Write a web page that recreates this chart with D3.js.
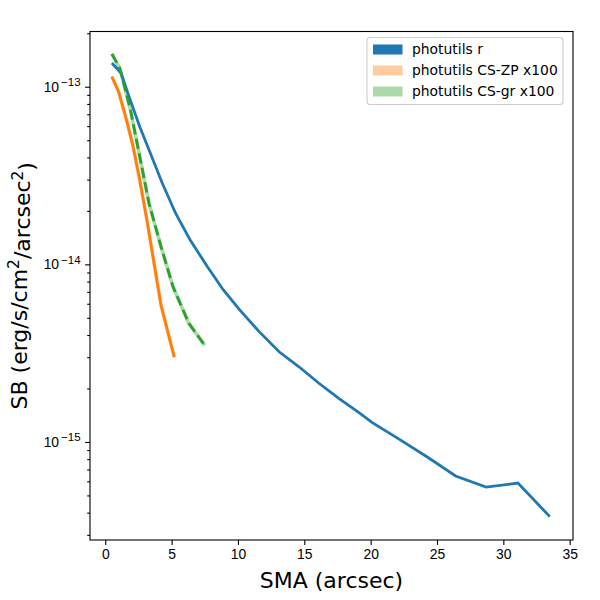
<!DOCTYPE html>
<html>
<head>
<meta charset="utf-8">
<script src="https://cdn.jsdelivr.net/npm/d3@7.9.0/dist/d3.min.js"></script>
<style>
  body { margin: 0; background: #fff; }
  svg { font-family: "DejaVu Sans", sans-serif; }
</style>
</head>
<body>
<div id="chart"></div>
<script>
// surface brightness profiles
const blueSma = [0.5, 1.2, 1.7, 2.6, 3.4, 4.3, 5.3, 6.4, 7.7, 8.9, 10.1, 11.6, 13.1, 14.6, 16.1, 17.6, 19.2, 20.1, 22.2, 24.3, 26.4, 28.7, 31.1, 33.5];
const blueSB = [1.36e-13, 1.19e-13, 9.2e-14, 5.95e-14, 4.22e-14, 2.86e-14, 1.94e-14, 1.37e-14, 9.7e-15, 7.17e-15, 5.58e-15, 4.18e-15, 3.22e-15, 2.65e-15, 2.14e-15, 1.76e-15, 1.45e-15, 1.29e-15, 1.03e-15, 8.2e-16, 6.43e-16, 5.57e-16, 5.87e-16, 3.8e-16];

const orangeSma = [0.5, 1.0, 1.6, 2.1, 2.6, 3.1, 3.6, 4.2, 5.2];
const orangeSB = [1.14e-13, 9.4e-14, 6.5e-14, 4.6e-14, 2.98e-14, 1.85e-14, 1.1e-14, 5.9e-15, 3.0e-15];

const greenSma = [0.5, 1.1, 1.9, 2.6, 3.3, 4.2, 5.1, 6.3, 7.5];
const greenSB = [1.53e-13, 1.27e-13, 7.4e-14, 4.04e-14, 2.2e-14, 1.26e-14, 7.5e-15, 4.65e-15, 3.5e-15];

const xTicks = [0, 5, 10, 15, 20, 25, 30, 35];
const yTicks = [1e-15, 1e-14, 1e-13];
const legendLabels = ["photutils r", "photutils CS-ZP x100", "photutils CS-gr x100"];

const margin = {top: 31.5, right: 27, bottom: 60, left: 90},
    width = 600 - margin.left - margin.right,
    height = 600 - margin.top - margin.bottom;

const svg = d3.select("#chart")
  .append("svg")
    .attr("width", 600)
    .attr("height", 600)
  .append("g")
    .attr("transform", `translate(${margin.left},${margin.top})`);

const x = d3.scaleLinear()
    .domain([-1.15, 35.25])
    .range([0, width]);

const y = d3.scaleLog()
    .domain([Math.pow(10, -15.552), Math.pow(10, -12.689)])
    .range([height, 0]);

// x axis
svg.append("g")
    .attr("transform", `translate(0,${height})`)
    .call(d3.axisBottom(x).tickValues(xTicks).tickSize(4.9).tickPadding(4.5).tickFormat(d3.format("d")));

// minor log ticks
const minor = [];
for (let e = -16; e <= -13; e++) {
  for (let m = 2; m <= 9; m++) {
    const v = m * Math.pow(10, e);
    if (v > y.domain()[0] && v < y.domain()[1]) minor.push(v);
  }
}
svg.append("g")
    .call(d3.axisLeft(y).tickValues(minor).tickSize(2.8).tickFormat(""))
    .call(g => g.select(".domain").remove());

const yAxis = svg.append("g")
    .call(d3.axisLeft(y).tickValues(yTicks).tickSize(4.9).tickPadding(4.5).tickFormat(""));

yAxis.selectAll(".tick text").each(function(d) {
  const t = d3.select(this);
  const exp = Math.round(Math.log10(d));
  t.append("tspan").text("10");
  t.append("tspan").attr("dx", 2).attr("dy", "-0.5em").style("font-size", "11.5px").text("\u2212" + Math.abs(exp));
});

svg.selectAll(".tick text").style("font-size", "13.9px").style("fill", "#000");
svg.selectAll(".tick line").style("stroke", "#000").style("stroke-width", 1.1);
svg.selectAll(".domain").style("stroke", "none");

// frame
svg.append("rect")
    .attr("width", width)
    .attr("height", height)
    .style("fill", "none")
    .style("stroke", "#000")
    .style("stroke-width", 1.1);

const line = d3.line()
    .x(d => x(d[0]))
    .y(d => y(d[1]));

svg.append("clipPath").attr("id", "clip")
  .append("rect").attr("width", width).attr("height", height);

const plot = svg.append("g").attr("clip-path", "url(#clip)");

// light bands under the lines
plot.append("path")
    .datum(d3.zip(orangeSma, orangeSB))
    .attr("d", line)
    .style("fill", "none")
    .style("stroke", "#ff7f0e")
    .style("stroke-opacity", 0.4)
    .style("stroke-width", 3.6);

plot.append("path")
    .datum(d3.zip(greenSma, greenSB))
    .attr("d", line)
    .style("fill", "none")
    .style("stroke", "#2ca02c")
    .style("stroke-opacity", 0.4)
    .style("stroke-width", 3.6);

plot.append("path")
    .datum(d3.zip(blueSma, blueSB))
    .attr("d", line)
    .style("fill", "none")
    .style("stroke", "#1f77b4")
    .style("stroke-width", 2.8);

plot.append("path")
    .datum(d3.zip(orangeSma, orangeSB))
    .attr("d", line)
    .style("fill", "none")
    .style("stroke", "#ff7f0e")
    .style("stroke-width", 2.8);

plot.append("path")
    .datum(d3.zip(greenSma, greenSB))
    .attr("d", line)
    .style("fill", "none")
    .style("stroke", "#2ca02c")
    .style("stroke-width", 2.8)
    .style("stroke-dasharray", "10.3,4.5");

// legend
const legend = svg.append("g")
    .attr("transform", `translate(${width - 206},6)`);

legend.append("rect")
    .attr("width", 196)
    .attr("height", 67)
    .attr("rx", 3)
    .style("fill", "#fff")
    .style("fill-opacity", 0.8)
    .style("stroke", "#cccccc")
    .style("stroke-width", 1.1);

const legendColors = ["#1f77b4", "#ff7f0e", "#2ca02c"];
const legendAlpha = [1, 0.4, 0.4];

legendLabels.forEach((label, i) => {
  legend.append("rect")
      .attr("x", 6)
      .attr("y", 7 + i * 21)
      .attr("width", 29.5)
      .attr("height", 10)
      .style("fill", legendColors[i])
      .style("fill-opacity", legendAlpha[i]);
  legend.append("text")
      .attr("x", 45)
      .attr("y", 12 + i * 21)
      .attr("dy", "0.35em")
      .style("font-size", "13.9px")
      .text(label);
});

// axis labels
svg.append("text")
    .attr("x", width / 2)
    .attr("y", height + 48)
    .attr("text-anchor", "middle")
    .style("font-size", "22px")
    .text("SMA (arcsec)");

const ylab = svg.append("text")
    .attr("transform", `translate(-63,${height / 2}) rotate(-90)`)
    .attr("text-anchor", "middle")
    .style("font-size", "22px");
ylab.append("tspan").text("SB (erg/s/cm");
ylab.append("tspan").attr("dy", "-0.5em").style("font-size", "15.4px").text("2");
ylab.append("tspan").attr("dy", "0.5em").text("/arcsec");
ylab.append("tspan").attr("dy", "-0.5em").style("font-size", "15.4px").text("2");
ylab.append("tspan").attr("dy", "0.5em").text(")");
</script>
</body>
</html>
